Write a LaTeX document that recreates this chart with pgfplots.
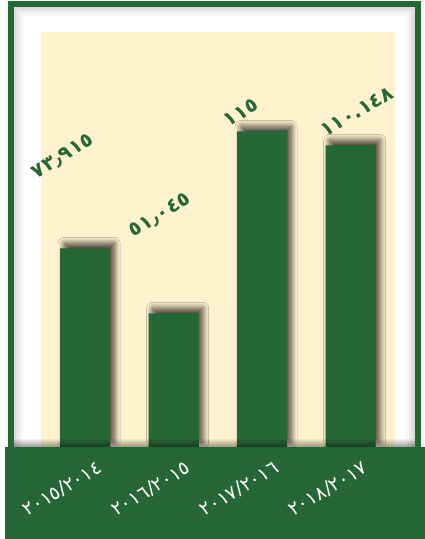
\documentclass[border=0pt]{standalone}
\usepackage{pgfplots}
\pgfplotsset{compat=1.18}
\usepackage{fontspec}
\setmainfont{DejaVu Sans}
\newfontfamily\arabicfont[Script=Arabic]{DejaVu Sans}
\usetikzlibrary{shadows.blur,fadings}
\definecolor{dgreen}{RGB}{39,102,54}
\definecolor{cream}{RGB}{255,242,207}
\begin{document}
\begin{tikzpicture}[x=1pt,y=1pt]
\path[use as bounding box] (0,0) rectangle (425,539);
\fill[white] (0,0) rectangle (425,539);
% inner shadow of the frame
\foreach \w in {4,8,12,18}{
  \draw[black,opacity=0.035,line width=\w pt] (14,80) rectangle (415,532);
}
\draw[dgreen,line width=6pt] (11,80) rectangle (418,535);
% bottom band
\fill[dgreen] (5,0) rectangle (425,92);
\begin{axis}[
  at={(41pt,92pt)}, anchor=south west,
  scale only axis, width=354pt, height=415pt,
  xmin=-0.5, xmax=3.5, ymin=4, ymax=150,
  clip mode=individual,
  axis background/.style={fill=cream},
  axis line style={draw=none},
  ytick=\empty,
  xtick=data,
  xticklabels={٢٠١٥/٢٠١٤,٢٠١٦/٢٠١٥,٢٠١٧/٢٠١٦,٢٠١٨/٢٠١٧},
  major tick length=0pt,
  xticklabel style={font=\arabicfont\fontsize{19}{19}\selectfont, text=white,
    anchor=center, xshift=-23pt, yshift=-42pt, rotate=31},
  ybar, bar width=50pt,
]
\addplot[fill=dgreen, draw=none,
  blur shadow={shadow xshift=4pt, shadow yshift=5pt, shadow blur radius=6pt, shadow blur steps=12, shadow opacity=75}]
  coordinates {(0,73.915) (1,51.045) (2,115) (3,110.148)};
\node[font=\arabicfont\bfseries\fontsize{20}{20}\selectfont, text=dgreen, rotate=32] at (axis cs:-0.25,106.2) {٧٣٫٩١٥};
\node[font=\arabicfont\bfseries\fontsize{20}{20}\selectfont, text=dgreen, rotate=32] at (axis cs:0.845,85.5) {٥١٫٠٤٥};
\node[font=\arabicfont\bfseries\fontsize{20}{20}\selectfont, text=dgreen, rotate=32] at (axis cs:1.76,121.7) {١١٥};
\node[font=\arabicfont\bfseries\fontsize{20}{20}\selectfont, text=dgreen, rotate=30] at (axis cs:3.07,122) {١١٠.١٤٨};
\end{axis}
\fill[black, opacity=0.4, path fading=north] (14,92) rectangle (415,101);
\end{tikzpicture}
\end{document}
